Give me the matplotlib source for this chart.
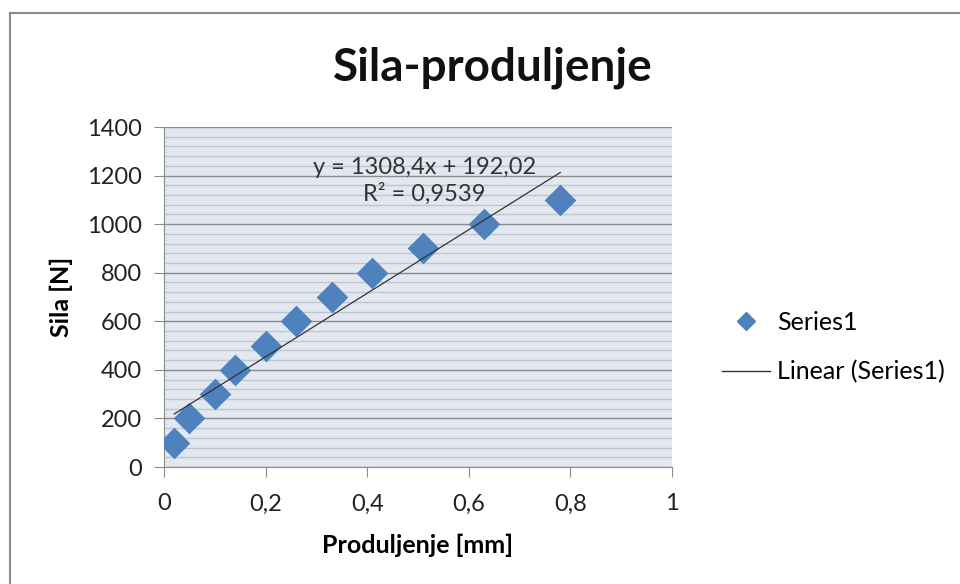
import numpy as np
import matplotlib
matplotlib.use("Agg")
import matplotlib.pyplot as plt
from matplotlib.patches import Rectangle
from matplotlib.lines import Line2D
from matplotlib.ticker import MultipleLocator, FuncFormatter

# data
produljenje = [0.02, 0.05, 0.10, 0.14, 0.20, 0.26, 0.33, 0.41, 0.51, 0.63, 0.78]
sila = [100, 200, 300, 400, 500, 600, 700, 800, 900, 1000, 1100]
trend_slope = 1308.4
trend_intercept = 192.02
trend_text = "y = 1308,4x + 192,02\nR² = 0,9539"

blue = "#4F81BD"
plt.rcParams['font.family'] = ['Lato', 'DejaVu Sans']

fig = plt.figure(figsize=(9.6, 5.84), dpi=100)
ax = fig.add_axes([164/960, 1-467/584, 508/960, 340/584])

# chart border
fig.patches.append(Rectangle((10/960, -0.05), 1.0, 1-13/584+0.05, transform=fig.transFigure,
                             fill=False, edgecolor="#8a8a8a", linewidth=1.5))

ax.set_facecolor("#e3e8f0")
ax.scatter(produljenje, sila, marker="D", s=260, color=blue, zorder=3, linewidths=0)

tx = np.array([min(produljenje), max(produljenje)])
ax.plot(tx, trend_slope*tx + trend_intercept, color="#333333", linewidth=0.9, zorder=4)

ax.text(0.512, 1178, trend_text, ha="center", va="center", fontsize=17, color="#333333",
        linespacing=1.3, zorder=5)

ax.set_xlim(0, 1)
ax.set_ylim(0, 1400)
ax.xaxis.set_major_locator(MultipleLocator(0.2))
ax.yaxis.set_major_locator(MultipleLocator(200))
ax.yaxis.set_minor_locator(MultipleLocator(40))
ax.xaxis.set_major_formatter(FuncFormatter(lambda v, p: ("%g" % round(v, 2)).replace(".", ",")))
ax.grid(True, axis="y", which="major", color="#8c8c8c", linewidth=1.0)
ax.grid(True, axis="y", which="minor", color="#c0c6d1", linewidth=1.0)
ax.set_axisbelow(True)
for s in ["top", "right"]:
    ax.spines[s].set_visible(False)
for s in ["left", "bottom"]:
    ax.spines[s].set_color("#8c8c8c")
ax.tick_params(axis="both", which="major", direction="out", length=7, color="#8c8c8c",
               labelsize=17, labelcolor="#222222")
ax.tick_params(axis="y", which="major", pad=9)
ax.tick_params(axis="x", which="major", pad=12)
ax.tick_params(axis="y", which="minor", length=0)

ax.set_xlabel("Produljenje [mm]", fontsize=18, fontweight="bold")
ax.set_ylabel("Sila [N]", fontsize=18, fontweight="bold")
ax.xaxis.set_label_coords(0.5, -0.195)
ax.yaxis.set_label_coords(-0.18, 0.5)

fig.text(493/960, 1-68/584, "Sila-produljenje", ha="center", va="center",
         fontsize=33, fontweight="bold", color="#111111")

handles = [Line2D([], [], marker="D", linestyle="none", color=blue, markersize=9),
           Line2D([], [], color="#333333", linewidth=1.0)]
fig.legend(handles, ["Series1", "Linear (Series1)"], loc="upper left",
           bbox_to_anchor=(722/960, 1-311/584), frameon=False, fontsize=18,
           borderpad=0, borderaxespad=0, handlelength=1.9, labelspacing=1.05,
           handletextpad=0.3)

fig.savefig("out.png", dpi=100)
